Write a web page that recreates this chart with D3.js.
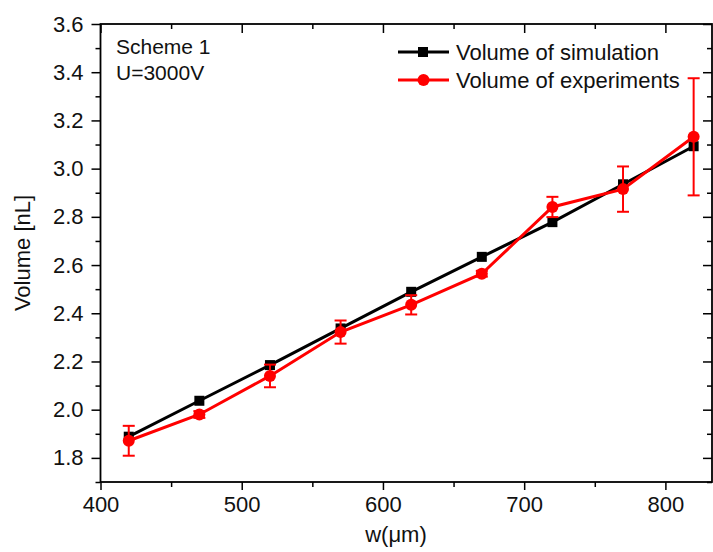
<!DOCTYPE html>
<html>
<head>
<meta charset="utf-8">
<title>Volume vs w</title>
<script src="https://cdn.jsdelivr.net/npm/d3@7/dist/d3.min.js"></script>
<style>
body { margin: 0; background: #fff; }
text { font-family: 'Liberation Sans', Arial, sans-serif; fill: #111; }
</style>
</head>
<body>
<svg id="chart" width="713" height="552"></svg>
<script>

// widths (um)
var widths = [420, 470, 520, 570, 620, 670, 720, 770, 820];
// simulated volume (nL)
var volSim = [1.888, 2.037, 2.185, 2.337, 2.489, 2.634, 2.778, 2.935, 3.093];
// measured volume (nL) and its error
var volExp = [1.871, 1.980, 2.140, 2.322, 2.435, 2.564, 2.841, 2.915, 3.132];
var volErr = [0.062, 0.014, 0.047, 0.048, 0.040, 0.012, 0.042, 0.094, 0.243];

var xTicks = [400, 500, 600, 700, 800];
var yTicks = [1.8, 2.0, 2.2, 2.4, 2.6, 2.8, 3.0, 3.2, 3.4, 3.6];

var svg = d3.select('#chart');
// plot box (note: "top" is taken by window.top)
var pL = 100.5, pR = 712, pT = 24, pB = 482;

var x = d3.scaleLinear().domain([400, 833]).range([pL, pR]);
var y = d3.scaleLinear().domain([1.7, 3.6]).range([pB, pT]);

var xMinor = d3.range(450, 833, 100);
var yMinor = d3.range(1.7, 3.55, 0.2);

function styleAxis(g) {
	g.select('.domain').remove();
	g.selectAll('line').attr('stroke', '#000').attr('stroke-width', 1.5);
	g.selectAll('text').attr('font-size', '22px').attr('fill', '#111');
}

// bottom axis, outward ticks
svg.append('g').attr('transform', 'translate(0,' + pB + ')')
	.call(d3.axisBottom(x).tickValues(xTicks).tickSize(8).tickPadding(6).tickFormat(d3.format('d')))
	.call(styleAxis);
svg.append('g').attr('transform', 'translate(0,' + pB + ')')
	.call(d3.axisBottom(x).tickValues(xMinor).tickSize(5).tickFormat(''))
	.call(styleAxis);

// left axis, outward ticks
svg.append('g').attr('transform', 'translate(' + pL + ',0)')
	.call(d3.axisLeft(y).tickValues(yTicks).tickSize(9).tickPadding(8).tickFormat(d3.format('.1f')))
	.call(styleAxis);
svg.append('g').attr('transform', 'translate(' + pL + ',0)')
	.call(d3.axisLeft(y).tickValues(yMinor).tickSize(5).tickFormat(''))
	.call(styleAxis);

// top axis, ticks pointing in
svg.append('g').attr('transform', 'translate(0,' + pT + ')')
	.call(d3.axisBottom(x).tickValues(xTicks).tickSize(9).tickFormat(''))
	.call(styleAxis);
svg.append('g').attr('transform', 'translate(0,' + pT + ')')
	.call(d3.axisBottom(x).tickValues(xMinor).tickSize(5).tickFormat(''))
	.call(styleAxis);

// right axis, ticks pointing in
svg.append('g').attr('transform', 'translate(' + pR + ',0)')
	.call(d3.axisLeft(y).tickValues(yTicks).tickSize(9).tickFormat(''))
	.call(styleAxis);
svg.append('g').attr('transform', 'translate(' + pR + ',0)')
	.call(d3.axisLeft(y).tickValues(yMinor).tickSize(5).tickFormat(''))
	.call(styleAxis);

// frame
svg.append('rect')
	.attr('x', pL).attr('y', pT)
	.attr('width', pR - pL).attr('height', pB - pT)
	.attr('fill', 'none').attr('stroke', '#000').attr('stroke-width', 1.8);

// axis titles
svg.append('text')
	.text('w(\u03bcm)')
	.attr('x', 396).attr('y', 542)
	.attr('text-anchor', 'middle')
	.attr('font-size', '22px');

svg.append('text')
	.text('Volume [nL]')
	.attr('transform', 'translate(30,' + ((pT + pB) / 2) + ') rotate(-90)')
	.attr('text-anchor', 'middle')
	.attr('font-size', '22px');

// annotation
svg.append('text').text('Scheme 1').attr('x', 116).attr('y', 54).attr('font-size', '21px');
svg.append('text').text('U=3000V').attr('x', 116).attr('y', 80).attr('font-size', '21px');

var simPts = widths.map(function(w, i) { return [w, volSim[i]]; });
var expPts = widths.map(function(w, i) { return [w, volExp[i], volErr[i]]; });

var line = d3.line().x(function(d) { return x(d[0]); }).y(function(d) { return y(d[1]); });

// simulation series
svg.append('path')
	.datum(simPts)
	.attr('d', line)
	.attr('fill', 'none')
	.attr('stroke', '#000')
	.attr('stroke-width', 3);

svg.selectAll('.sq')
	.data(simPts)
	.enter()
	.append('rect')
	.attr('class', 'sq')
	.attr('x', function(d) { return x(d[0]) - 5; })
	.attr('y', function(d) { return y(d[1]) - 5; })
	.attr('width', 10).attr('height', 10)
	.attr('fill', '#000');

// experiment series
var red = '#ff0000';
svg.append('path')
	.datum(expPts)
	.attr('d', line)
	.attr('fill', 'none')
	.attr('stroke', red)
	.attr('stroke-width', 3);

var eb = svg.selectAll('.err')
	.data(expPts)
	.enter()
	.append('g')
	.attr('class', 'err')
	.attr('stroke', red)
	.attr('stroke-width', 2);

eb.append('line')
	.attr('x1', function(d) { return x(d[0]); })
	.attr('x2', function(d) { return x(d[0]); })
	.attr('y1', function(d) { return y(d[1] - d[2]); })
	.attr('y2', function(d) { return y(d[1] + d[2]); });
eb.append('line')
	.attr('x1', function(d) { return x(d[0]) - 6; })
	.attr('x2', function(d) { return x(d[0]) + 6; })
	.attr('y1', function(d) { return y(d[1] + d[2]); })
	.attr('y2', function(d) { return y(d[1] + d[2]); });
eb.append('line')
	.attr('x1', function(d) { return x(d[0]) - 6; })
	.attr('x2', function(d) { return x(d[0]) + 6; })
	.attr('y1', function(d) { return y(d[1] - d[2]); })
	.attr('y2', function(d) { return y(d[1] - d[2]); });

svg.selectAll('.dot')
	.data(expPts)
	.enter()
	.append('circle')
	.attr('class', 'dot')
	.attr('cx', function(d) { return x(d[0]); })
	.attr('cy', function(d) { return y(d[1]); })
	.attr('r', 6)
	.attr('fill', red);

// legend
var legend = [['Volume of simulation', '#000', 'square'], ['Volume of experiments', red, 'circle']];
legend.forEach(function(l, i) {
	var ly = 52 + i * 28;
	svg.append('line')
		.attr('x1', 398).attr('x2', 449)
		.attr('y1', ly).attr('y2', ly)
		.attr('stroke', l[1]).attr('stroke-width', 3);
	if (l[2] == 'square') {
		svg.append('rect').attr('x', 418).attr('y', ly - 5).attr('width', 10).attr('height', 10).attr('fill', l[1]);
	} else {
		svg.append('circle').attr('cx', 423.5).attr('cy', ly).attr('r', 6).attr('fill', l[1]);
	}
	svg.append('text')
		.text(l[0])
		.attr('x', 456).attr('y', ly + 8)
		.attr('font-size', '22px');
});

</script>
</body>
</html>
